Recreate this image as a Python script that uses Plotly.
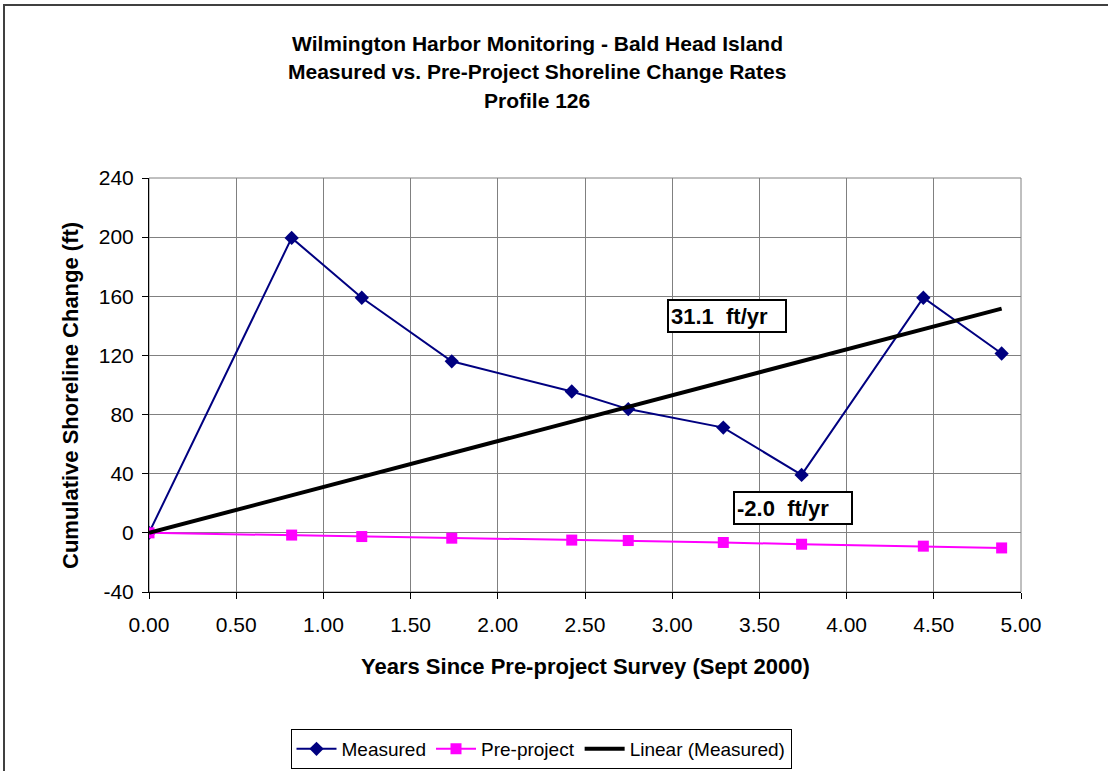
import numpy as np
import plotly.graph_objects as go

# ---- data ----
years = [0.0, 0.818, 1.22, 1.736, 2.424, 2.748, 3.293, 3.742, 4.44, 4.889]
measured = [0.0, 199.5, 159.0, 116.0, 95.6, 83.7, 71.2, 39.2, 159.0, 121.3]
pre_project = [0.0, -1.5, -2.5, -3.6, -4.9, -5.2, -6.5, -7.7, -9.0, -10.2]
rate_labels = ["31.1  ft/yr", "-2.0  ft/yr"]
x_ticks = [0, 0.5, 1, 1.5, 2, 2.5, 3, 3.5, 4, 4.5, 5]
x_tick_text = ["0.00", "0.50", "1.00", "1.50", "2.00", "2.50", "3.00", "3.50", "4.00", "4.50", "5.00"]
y_ticks = [-40, 0, 40, 80, 120, 160, 200, 240]
y_tick_text = ["-40", "0", "40", "80", "120", "160", "200", "240"]

# Linear trendline of Measured (Excel, intercept forced to 0)
xa = np.array(years)
ya = np.array(measured)
slope = float((xa * ya).sum() / (xa * xa).sum())
trend_x = [0.0, max(years)]
trend_y = [slope * v for v in trend_x]

W, H = 1108, 771
L, R, T, B = 149, 1021, 178, 592  # plot area in pixels


def px(xp):
    return (xp - L) / (R - L)


def py(yp):
    return (B - yp) / (B - T)


FONT = "Liberation Sans, Arial, sans-serif"

fig = go.Figure()
fig.add_trace(go.Scatter(
    x=years, y=measured, name="Measured", mode="lines+markers",
    line=dict(color="#000080", width=2),
    marker=dict(symbol="diamond", size=11, color="#000080"),
))
fig.add_trace(go.Scatter(
    x=years, y=pre_project, name="Pre-project", mode="lines+markers",
    line=dict(color="#FF00FF", width=2),
    marker=dict(symbol="square", size=11, color="#FF00FF"),
))
fig.add_trace(go.Scatter(
    x=trend_x, y=trend_y, name="Linear (Measured)", mode="lines",
    line=dict(color="#000000", width=4),
))

axis_common = dict(
    showgrid=True, gridcolor="#808080", gridwidth=1,
    zeroline=False, showline=True, linecolor="#000000", linewidth=1,
    ticks="outside", ticklen=6, tickcolor="#000000",
    tickfont=dict(family=FONT, size=21, color="#000000"),
)

fig.update_layout(
    width=W, height=H,
    paper_bgcolor="white", plot_bgcolor="white",
    margin=dict(l=L, r=W - R, t=T, b=H - B, autoexpand=False),
    showlegend=True,
    legend=dict(
        orientation="h", x=px(541), xanchor="center", y=py(729), yanchor="top",
        bordercolor="#000000", borderwidth=1, bgcolor="white",
        font=dict(family=FONT, size=19, color="#000000"),
        itemwidth=40, tracegroupgap=0,
    ),
    xaxis=dict(range=[0, 5], tickvals=x_ticks, ticktext=x_tick_text,
               ticklabelstandoff=8, **axis_common),
    yaxis=dict(range=[-40, 240], tickvals=y_ticks, ticktext=y_tick_text,
               ticklabelstandoff=4, **axis_common),
)

# plot area border (gray) and outer chart border
fig.add_shape(type="rect", xref="paper", yref="paper", x0=0, x1=1, y0=0, y1=1,
              line=dict(color="#808080", width=1), layer="below")
fig.add_shape(type="rect", xref="paper", yref="paper",
              x0=px(4), x1=px(1120), y0=py(790), y1=py(5),
              line=dict(color="#404040", width=2))

# Title lines
title_lines = ["Wilmington Harbor Monitoring - Bald Head Island",
               "Measured vs. Pre-Project Shoreline Change Rates",
               "Profile 126"]
for i, t in enumerate(title_lines):
    fig.add_annotation(text="<b>%s</b>" % t, xref="paper", yref="paper",
                       x=px(537), y=py(43 + i * 28.5), xanchor="center", yanchor="middle",
                       showarrow=False, font=dict(family=FONT, size=21, color="#000000"))

# axis titles
fig.add_annotation(text="<b>Years Since Pre-project Survey (Sept 2000)</b>",
                   xref="paper", yref="paper", x=px(585), y=py(666),
                   xanchor="center", yanchor="middle", showarrow=False,
                   font=dict(family=FONT, size=22, color="#000000"))
fig.add_annotation(text="<b>Cumulative Shoreline Change (ft)</b>",
                   xref="paper", yref="paper", x=px(70), y=py(396),
                   xanchor="center", yanchor="middle", textangle=-90, showarrow=False,
                   font=dict(family=FONT, size=22, color="#000000"))

# rate label boxes
box_pos = [(667, 299), (733, 491)]
for lab, (bx, by) in zip(rate_labels, box_pos):
    fig.add_annotation(text="<b>%s</b>" % lab, xref="paper", yref="paper",
                       x=px(bx), y=py(by), xanchor="left", yanchor="top",
                       showarrow=False, align="left", width=112, height=26,
                       bordercolor="#000000", borderwidth=2, borderpad=2,
                       bgcolor="white",
                       font=dict(family=FONT, size=22, color="#000000"))

fig.write_html("out.html", config={"displayModeBar": False},
               post_script="document.body.style.margin='0';document.body.style.overflow='hidden';")
